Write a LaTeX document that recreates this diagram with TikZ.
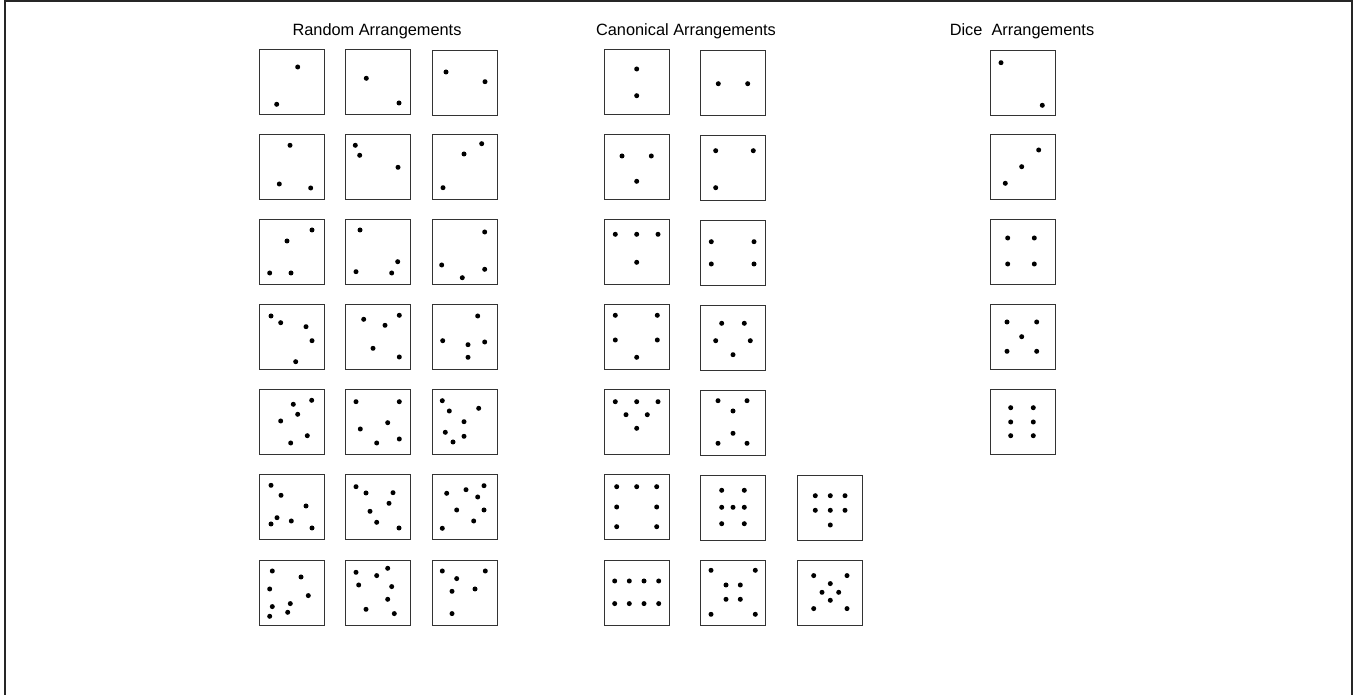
\documentclass[tikz,border=0pt]{standalone}
\usepackage{fontspec}
\setmainfont{Liberation Sans}
\newcommand\pips[2]{\foreach \px/\py in {#2} \fill[pip] ([shift={(\px,\py)}]#1.north west) circle (2.5);}
\begin{document}
\begin{tikzpicture}[x=0.02cm, y=-0.02cm,
    arrbox/.style={draw=black!80, line width=0.8pt, minimum size=1.3cm, inner sep=0pt, anchor=north west},
    pip/.style={fill=black},
    heading/.style={anchor=base, font=\fontsize{9.3}{11}\selectfont}]
    \useasboundingbox (0,0) rectangle (1357,695);
    \draw[line width=1.1pt, black!85] (5,695) -- (5,1) -- (1352,1) -- (1352,695);
    \node[heading] (trand) at (377,36) {Random Arrangements};
    \node[heading] (tcan) at (686,36) {Canonical Arrangements};
    \node[heading] (tdice) at (1022,36) {Dice\ \ Arrangements};
    % random
    \node[arrbox] (r11) at (259,49) {};  \pips{r11}{38.7/18, 17.7/55.3}
    \node[arrbox] (r12) at (345,49) {};  \pips{r12}{21.3/29.3, 54/54}
    \node[arrbox] (r13) at (432,50) {};  \pips{r13}{14/22, 53/31.7}
    \node[arrbox] (r21) at (259,134) {}; \pips{r21}{31/11.3, 20.3/50, 51.7/54}
    \node[arrbox] (r22) at (345,134) {}; \pips{r22}{10.3/11.3, 14.7/21.3, 53/33.3}
    \node[arrbox] (r23) at (432,134) {}; \pips{r23}{49.7/9.7, 32/20, 11/53.7}
    \node[arrbox] (r31) at (259,219) {}; \pips{r31}{53/11, 28/22, 10.7/54, 32/54}
    \node[arrbox] (r32) at (345,219) {}; \pips{r32}{15/11, 52.7/42.7, 11/52.7, 46.7/54}
    \node[arrbox] (r33) at (432,219) {}; \pips{r33}{52.7/13, 9.7/46, 30.3/58.7, 52.7/50.3}
    \node[arrbox] (r41) at (259,304) {}; \pips{r41}{12/12, 21.7/18.7, 47/22.7, 53/36.7, 36.7/57.7}
    \node[arrbox] (r42) at (345,304) {}; \pips{r42}{18.7/15.3, 40/21.3, 54.3/11.3, 28/44.3, 54.3/53}
    \node[arrbox] (r43) at (432,304) {}; \pips{r43}{45.7/12, 10.7/36.7, 36/40.7, 52.7/38, 36/53.3}
    \node[arrbox] (r51) at (259,389) {}; \pips{r51}{34.3/15.3, 52.7/11.3, 38.7/25.3, 21.7/32, 48.3/46.7, 31.7/54}
    \node[arrbox] (r52) at (345,389) {}; \pips{r52}{11/12.7, 54.3/12.7, 42.7/33.7, 15.3/40, 54.3/50, 31.7/54}
    \node[arrbox] (r53) at (432,389) {}; \pips{r53}{10.3/11.7, 17.3/22, 46.7/19.3, 32/32.7, 13.3/43.3, 32/47.3, 21/53}
    \node[arrbox] (r61) at (259,474) {}; \pips{r61}{12/11.3, 22/21.3, 47/32, 18/43.7, 12/50, 32.3/47, 53/54}
    \node[arrbox] (r62) at (345,474) {}; \pips{r62}{11/12.7, 21/19, 48/18.7, 44/29.3, 25/37.3, 31.7/48.3, 54/54}
    \node[arrbox] (r63) at (432,474) {}; \pips{r63}{14.7/19.3, 34/15.7, 52/11.7, 45.7/23, 24.7/36, 52/36, 41.7/47, 10.3/54.3}
    \node[arrbox] (r71) at (259,560) {}; \pips{r71}{13.3/11, 42/17, 10.7/29, 49.3/35.6, 31.3/43.6, 13.3/46.6, 28.7/52.3, 10.7/56.3}
    \node[arrbox] (r72) at (345,560) {}; \pips{r72}{11/12.3, 31.7/15.6, 42.7/8.3, 13.7/25, 46.7/26.6, 42.7/39.3, 21/49.3, 49.3/53.6}
    \node[arrbox] (r73) at (432,560) {}; \pips{r73}{10.3/11, 53.3/11, 24.7/18.6, 20/31.3, 43/29, 20/53.6}
    % canonical
    \node[arrbox] (c11) at (604,49) {};  \pips{c11}{32.7/20, 32.7/46.7}
    \node[arrbox] (c12) at (700,50) {};  \pips{c12}{18.3/33.7, 47.7/33.7}
    \node[arrbox] (c21) at (604,134) {}; \pips{c21}{18/22, 47.3/22, 32.7/47.3}
    \node[arrbox] (c22) at (700,135) {}; \pips{c22}{15.7/15.7, 53.3/15.7, 15.7/52.7}
    \node[arrbox] (c31) at (604,219) {}; \pips{c31}{11.3/15.3, 32.7/15.3, 54/15.3, 32.7/43.3}
    \node[arrbox] (c32) at (700,220) {}; \pips{c32}{11.3/21.7, 54/21.7, 11.3/44, 54/44}
    \node[arrbox] (c41) at (604,304) {}; \pips{c41}{11.3/11.3, 53.3/11.3, 11.3/36, 53.3/36, 32.7/53.3}
    \node[arrbox] (c42) at (700,305) {}; \pips{c42}{21.7/18.3, 44.3/18.3, 15.7/35.7, 50.3/35.7, 33/49.7}
    \node[arrbox] (c51) at (604,389) {}; \pips{c51}{11.3/12.7, 32.7/12.7, 54/12.7, 22/25.7, 43.3/25.7, 32.7/39.3}
    \node[arrbox] (c52) at (700,390) {}; \pips{c52}{18/10.7, 47/10.7, 33/21, 33/43.3, 18/53.3, 47/53.3}
    \node[arrbox] (c61) at (604,474) {}; \pips{c61}{12.7/12.7, 32.7/12.7, 52.7/12.7, 12.7/33, 52.7/33, 12.7/52.7, 52.7/52.7}
    \node[arrbox] (c62) at (700,475) {}; \pips{c62}{21.7/15.3, 44.3/15.3, 21.7/32.3, 33/32.3, 44.3/32.3, 21.7/48.7, 44.3/48.7}
    \node[arrbox] (c63) at (797,475) {}; \pips{c63}{18.3/20.7, 33.3/20.7, 48/20.7, 18.3/35.3, 33.3/35.3, 48/35.3, 33.3/50}
    \node[arrbox] (c71) at (604,560) {}; \pips{c71}{10.7/21, 25.3/21, 40/21, 54.7/21, 10.7/43.6, 25.3/43.6, 40/43.6, 54.7/43.6}
    \node[arrbox] (c72) at (700,560) {}; \pips{c72}{11/10.3, 55.3/10.3, 26/25, 40.3/25, 26/39.3, 40.3/39.3, 11/54.3, 55.3/54.3}
    \node[arrbox] (c73) at (797,560) {}; \pips{c73}{16.7/15.6, 50/15.6, 33.3/23.6, 25/32.3, 41.7/32.3, 33.3/40.3, 16.7/48.6, 50/48.6}
    % dice
    \node[arrbox] (d1) at (990,50) {};  \pips{d1}{11/12.7, 52.3/55.3}
    \node[arrbox] (d2) at (990,134) {}; \pips{d2}{48.7/16, 31.7/32.7, 15.3/49.3}
    \node[arrbox] (d3) at (990,219) {}; \pips{d3}{17.7/19, 44.3/19, 17.7/45, 44.3/45}
    \node[arrbox] (d4) at (990,304) {}; \pips{d4}{17/18, 46.7/18, 31.7/32.7, 17/47.3, 46.7/47.3}
    \node[arrbox] (d5) at (990,389) {}; \pips{d5}{20.7/18.7, 43.3/18.7, 20.7/33, 43.3/33, 20.7/46.7, 43.3/46.7}
\end{tikzpicture}
\end{document}
